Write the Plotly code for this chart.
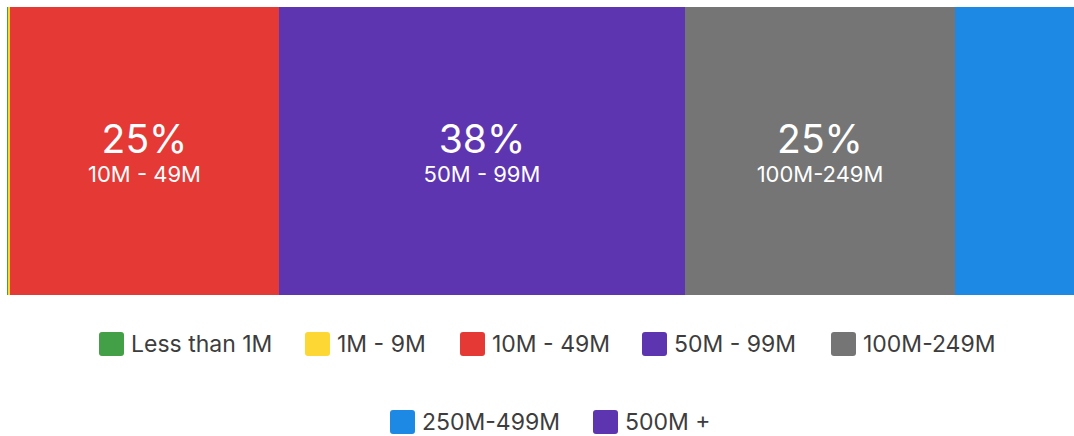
import plotly.graph_objects as go

# Revenue bands and their share of respondents (percent)
categories = ["Less than 1M", "1M - 9M", "10M - 49M", "50M - 99M",
              "100M-249M", "250M-499M", "500M +"]
shares = [0.1, 0.15, 25.2, 38.1, 25.3, 11.15, 0.0]
colors = ["#43a047", "#fdd835", "#e53935", "#5e35b1",
          "#757575", "#1e88e5", "#5e35b1"]

# Only segments at least this wide carry an inside label
LABEL_MIN_SHARE = 20

# Legend layout (pixel positions in the 1074x436 page)
W, H = 1074, 436
M_L, M_R, M_T, M_B = 7, 0, 7, 141
legend_rows = [[0, 1, 2, 3, 4], [5, 6]]
legend_row_y = [344, 422]
legend_x = {0: 99, 1: 305, 2: 460, 3: 642, 4: 831, 5: 390, 6: 593}
SWATCH_W, SWATCH_H = 25, 24
FONT = "Inter, Roboto, sans-serif"

fig = go.Figure()
for cat, val, col in zip(categories, shares, colors):
    show = val >= LABEL_MIN_SHARE
    fig.add_trace(go.Bar(
        x=[val], y=[""], orientation="h", name=cat,
        marker=dict(color=col, line=dict(width=0)),
        text=[cat] if show else None,
        texttemplate=("<span style='font-size:39px'>%{x:.0f}%</span><br>%{text}"
                      if show else None),
        textposition="inside" if show else "none",
        insidetextanchor="middle",
        textfont=dict(family=FONT, size=22, color="white"),
        hoverinfo="skip",
        showlegend=False,
    ))

pw = W - M_L - M_R
ph = H - M_T - M_B


def px_to_paper(px, py):
    return (px - M_L) / pw, (H - M_B - py) / ph


shapes, annotations = [], []
r = 3
hw, hh = SWATCH_W / 2, SWATCH_H / 2
rounded = (f"M{-hw + r},{-hh} L{hw - r},{-hh} Q{hw},{-hh} {hw},{-hh + r} "
           f"L{hw},{hh - r} Q{hw},{hh} {hw - r},{hh} L{-hw + r},{hh} "
           f"Q{-hw},{hh} {-hw},{hh - r} L{-hw},{-hh + r} Q{-hw},{-hh} {-hw + r},{-hh} Z")
for row, cy in zip(legend_rows, legend_row_y):
    for i in row:
        sx = legend_x[i]
        ax, ay = px_to_paper(sx + hw, cy)
        shapes.append(dict(
            type="path", xref="paper", yref="paper",
            xsizemode="pixel", ysizemode="pixel",
            xanchor=ax, yanchor=ay, path=rounded,
            fillcolor=colors[i], line=dict(width=0), layer="above",
        ))
        tx, ty = px_to_paper(sx + SWATCH_W + 5, cy)
        annotations.append(dict(
            x=tx, y=ty, xref="paper", yref="paper",
            xanchor="left", yanchor="middle", showarrow=False,
            text=categories[i],
            font=dict(family=FONT, size=23, color="#3d3d3d"),
        ))

fig.update_layout(
    width=W, height=H,
    margin=dict(l=M_L, r=M_R, t=M_T, b=M_B),
    barmode="stack", bargap=0,
    paper_bgcolor="white", plot_bgcolor="white",
    xaxis=dict(range=[0, sum(shares)], visible=False, fixedrange=True),
    yaxis=dict(visible=False, fixedrange=True),
    shapes=shapes, annotations=annotations,
    showlegend=False,
    font=dict(family=FONT),
)

fig.write_html("out.html", config={"displayModeBar": False})
